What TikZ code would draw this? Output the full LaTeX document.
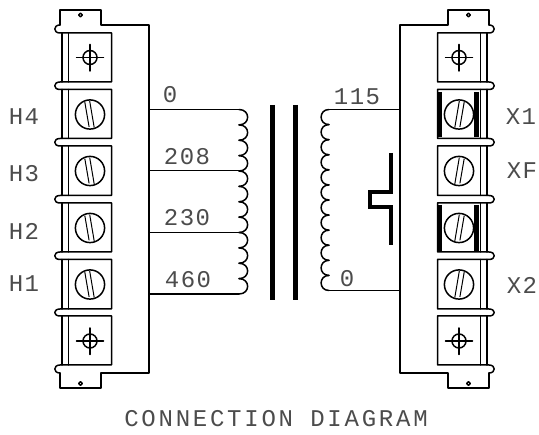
\documentclass[tikz,border=0pt]{standalone}
\usepackage{fontspec}
\newfontfamily\cadfont[LetterSpace=6]{Liberation Mono}
\newfontfamily\cadtitle[LetterSpace=11.5]{Liberation Mono}
\tikzset{
  wire/.style={line width=1.5pt,line join=round,line cap=round},
  heavy/.style={line width=4.6pt},
  lbl/.style={inner sep=0pt,text=black!70,font=\cadfont\fontsize{24}{24}\selectfont},
  ttl/.style={inner sep=0pt,text=black!70,font=\cadtitle\fontsize{24}{24}\selectfont},
}
% one half-block; #1 = x mirror sign, #2 = x offset
\newcommand{\blockside}[2]{%
\begin{scope}[shift={(#2,0)},xscale=#1]
  \draw[wire] (60,25) -- (60,10) -- (101,10) -- (101,25) -- (149,25) -- (149,373) -- (101,373) -- (101,388) -- (60,388) -- (60,373);
  \draw[wire,fill=white] (80.5,15) circle (1.9);
  \draw[wire,fill=white] (80.5,383.5) circle (1.9);
  \draw[wire] (60,25) .. controls (53,25) and (53,33) .. (60,33) -- (111.5,33) -- (111.5,82) -- (60,82) .. controls (53,82) and (53,89.5) .. (60,89.5) -- (111.5,89.5) -- (111.5,138.5) -- (60,138.5) .. controls (53,138.5) and (53,146) .. (60,146) -- (111.5,146) -- (111.5,195.5) -- (60,195.5) .. controls (53,195.5) and (53,203) .. (60,203) -- (111.5,203) -- (111.5,252) -- (60,252) .. controls (53,252) and (53,259.5) .. (60,259.5) -- (111.5,259.5) -- (111.5,309) -- (60,309) .. controls (53,309) and (53,316) .. (60,316) -- (111.5,316) -- (111.5,365) -- (60,365) .. controls (53,365) and (53,373) .. (60,373);
  \foreach \ya/\yb in {33/82,89.5/138.5,146/195.5,203/252,259.5/309,316/365}{
    \draw[wire] (62,\ya) -- (62,\yb);
    \draw[wire] (68.5,\ya) -- (68.5,\yb);
  }
  \foreach \yc in {57.5,341}{
    \draw[wire] (90,\yc) circle (7);
    \draw[wire] (76.5,\yc) -- (103.5,\yc);
    \draw[wire] (90,\yc-13) -- (90,\yc+13.5);
  }
\end{scope}}
\newcommand{\screwhead}[3]{% x, y, sign
  \begin{scope}[shift={(#1,#2)},xscale=#3]
    \draw[wire] (0,0) circle (14.6);
    \draw[line width=1pt] (-5.2,-12.4) -- (-0.9,12.4);
    \draw[line width=1pt] (-0.3,-13.4) -- (4.2,13);
  \end{scope}}
\begin{document}
\begin{tikzpicture}[x=1pt,y=-1pt]
\useasboundingbox (0,0) rectangle (539,435);
\fill[white] (0,0) rectangle (539,435);
\blockside{1}{0}
\blockside{-1}{549}
% screw heads
\foreach \yc in {114.5,171,228,284.5}{
  \screwhead{90}{\yc}{1}
  \screwhead{459}{\yc}{-1}
}
% heavy jumper bars
\foreach \ya/\yb in {92/137,205/251}{
  \draw[heavy] (439.7,\ya) -- (439.7,\yb);
  \draw[heavy] (476.2,\ya) -- (476.2,\yb);
}
% primary wires and coil
\coordinate (pa) at (149,109.5);
\coordinate (pb) at (149,170.5);
\coordinate (pc) at (149,232.5);
\coordinate (pd) at (149,294);
\draw[wire] (pa) -- (239,109.5);
\draw[wire] (pb) -- (241,170.5);
\draw[wire] (pc) -- (241,232.5);
\draw[wire] (pd) -- (239,294);
\foreach \i in {0,...,11}{
  \pgfmathsetmacro{\ya}{109.5+\i*15.375}
  \pgfmathsetmacro{\yb}{109.5+(\i+1)*15.375}
  \draw[wire] (239,\ya) .. controls (250.5,\ya) and (250.5,\yb) .. (239,\yb);
}
% core
\draw[heavy,line width=5pt] (272.3,105) -- (272.3,300);
\draw[heavy,line width=5pt] (295.7,105) -- (295.7,300);
% secondary wires and coil
\coordinate (sa) at (400,109.5);
\coordinate (sb) at (400,290.5);
\draw[wire] (sa) -- (329,109.5);
\draw[wire] (sb) -- (329,290.5);
\foreach \i in {0,...,11}{
  \pgfmathsetmacro{\ya}{109.5+\i*15.083}
  \pgfmathsetmacro{\yb}{109.5+(\i+1)*15.083}
  \draw[wire] (329,\ya) .. controls (318.5,\ya) and (318.5,\yb) .. (329,\yb);
}
% switch symbol
\draw[line width=3.6pt,line join=miter] (390.7,153) -- (390.7,192) -- (370,192) -- (370,207) -- (390.7,207) -- (390.7,245);
% labels
\node[lbl] (h4) at (24,117) {H4};
\node[lbl] (h3) at (24,174) {H3};
\node[lbl] (h2) at (24,231) {H2};
\node[lbl] (h1) at (24,284) {H1};
\node[lbl] (x1) at (521,117) {X1};
\node[lbl] (xf) at (522,171) {XF};
\node[lbl] (x2) at (522,285) {X2};
\node[lbl] (n0) at (170,95) {0};
\node[lbl] (n208) at (187,157) {208};
\node[lbl] (n230) at (187,218) {230};
\node[lbl] (n460) at (188,280) {460};
\node[lbl] (n115) at (357,97) {115};
\node[lbl] (n00) at (347,279) {0};
\node[ttl] (title) at (276,419) {CONNECTION DIAGRAM};
\end{tikzpicture}
\end{document}
